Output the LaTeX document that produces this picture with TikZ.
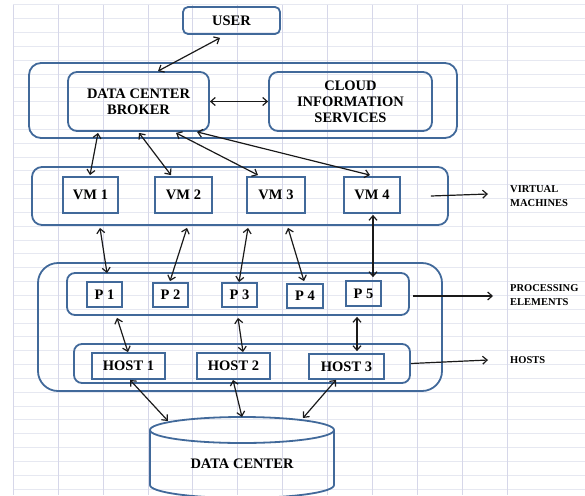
\documentclass[tikz,border=0pt]{standalone}
\usepackage{fontspec}
\setmainfont{Liberation Serif}
\usetikzlibrary{arrows.meta,calc}
\definecolor{boxblue}{HTML}{41699A}
\definecolor{gridv}{HTML}{D6D7E9}
\definecolor{gridh}{HTML}{E6E8F1}
\definecolor{ink}{HTML}{1A1A1A}
\begin{document}
\begin{tikzpicture}[x=1pt,y=-1pt,
  lbl/.style={font=\fontsize{14.5}{16}\selectfont\bfseries, align=center, text=black},
  rbox/.style={draw=boxblue, line width=1.8pt, rounded corners=#1, inner sep=0pt},
  rbox/.default=8pt,
  sbox/.style={draw=boxblue, line width=1.8pt, inner sep=0pt, lbl},
  tipb/.tip={Straight Barb[length=4.5pt,width=8pt]},
  conn/.style={draw=ink, line width=1.2pt, tipb-tipb},
  oneway/.style={draw=ink, line width=1.2pt, -tipb},
  side/.style={font=\fontsize{10.5}{14}\selectfont\bfseries, align=left, anchor=west, inner sep=0pt, text=black},
  gridline/.style={line width=1pt},
]
\useasboundingbox (0,0) rectangle (585,495);
% background grid
\foreach \k in {0,...,35} \draw[gridline, gridh] ({13.3},{5+13.83*\k}) -- ({585},{5+13.83*\k});
\foreach \k in {0,...,11} \draw[gridline, gridv] ({13.3+44.9*\k},{5}) -- ({13.3+44.9*\k},{495});

% top group
\node[rbox=5pt, lbl, minimum width=97pt, minimum height=27pt] (user) at (231.5,20.5) {USER};
\node[rbox=12pt, minimum width=428pt, minimum height=75pt] (topc) at (243,100.5) {};
\node[rbox=9pt, lbl, minimum width=141pt, minimum height=59pt] (broker) at (138.5,101.5) {DATA CENTER\\BROKER};
\node[rbox=9pt, lbl, minimum width=163pt, minimum height=59pt] (cloud) at (350.5,101.5) {CLOUD\\INFORMATION\\SERVICES};

% VM group
\node[rbox=10pt, minimum width=416pt, minimum height=58pt] (vmc) at (240,196) {};
\node[sbox, minimum width=55pt, minimum height=36pt] (vm1) at (90.5,195) {VM 1};
\node[sbox, minimum width=57pt, minimum height=36pt] (vm2) at (183.5,195) {VM 2};
\node[sbox, minimum width=58pt, minimum height=36pt] (vm3) at (276,195) {VM 3};
\node[sbox, minimum width=56pt, minimum height=36pt] (vm4) at (372,195) {VM 4};

% processing group
\node[rbox=20pt, minimum width=404pt, minimum height=128pt] (procc) at (240,327) {};
\node[rbox=8pt, minimum width=342pt, minimum height=42pt] (pc) at (238,294) {};
\node[sbox, minimum width=35pt, minimum height=25pt] (p1) at (104.5,294.5) {P 1};
\node[sbox, minimum width=35pt, minimum height=24pt] (p2) at (170.5,295) {P 2};
\node[sbox, minimum width=35pt, minimum height=24pt] (p3) at (239.5,295) {P 3};
\node[sbox, minimum width=36pt, minimum height=24pt] (p4) at (305,296) {P 4};
\node[sbox, minimum width=35pt, minimum height=25pt] (p5) at (363.5,293.5) {P 5};

\node[rbox=8pt, minimum width=336pt, minimum height=39pt] (hc) at (242,363.5) {};
\node[sbox, minimum width=73pt, minimum height=26pt] (host1) at (128.5,366) {HOST 1};
\node[sbox, minimum width=73pt, minimum height=26pt] (host2) at (233.5,366) {HOST 2};
\node[sbox, minimum width=75pt, minimum height=25pt] (host3) at (346.5,366.5) {HOST 3};

% data center cylinder
\draw[boxblue, line width=1.8pt] (150,430) -- (150,485) arc[start angle=180, end angle=0, x radius=92, y radius=13] -- (334,430);
\draw[boxblue, line width=1.8pt] (242,430) ellipse[x radius=92, y radius=13];
\node[lbl] (dc) at (242,464) {DATA CENTER};
\coordinate (dc1) at (168,421);
\coordinate (dc2) at (242,417);
\coordinate (dc3) at (303,418);

% side labels
\node[side] (vml) at (510,196) {VIRTUAL\\MACHINES};
\node[side] (pel) at (510,295.5) {PROCESSING\\ELEMENTS};
\node[side] (hl) at (510,360) {HOSTS};
\coordinate (vmend) at (488,194);
\coordinate (peend) at (493,296);
\coordinate (hend) at (488,360);

% connectors
\draw[conn] ($(user.south)+(-11.5,3)$) -- ($(broker.north)+(19.5,0)$);
\draw[conn] (broker.east) -- (cloud.west);

\draw[conn] ($(broker.south)+(-40.5,1)$) -- ($(vm1.north)+(-0.5,-1)$);
\draw[conn] ($(broker.south)+(0.5,1)$) -- ($(vm2.north)+(-12.5,-1)$);
\draw[conn] ($(broker.south)+(37.5,1)$) -- ($(vm3.north)+(-18,-1)$);
\draw[conn] ($(broker.south)+(58.5,0)$) -- ($(vm4.north)+(-2,-1)$);

\draw[conn] ($(vm1.south)+(9.5,14)$) -- ($(p1.north)+(2.5,-8)$);
\draw[conn] ($(vm2.south)+(3.5,14)$) -- ($(p2.north)+(-0.5,-1)$);
\draw[conn] ($(vm3.south)+(-28,14)$) -- ($(p3.north)+(-0.5,0)$);
\draw[conn] ($(vm3.south)+(12,14)$) -- ($(p4.north)+(-1,-2)$);
\draw[conn] ($(vm4.south)+(1,1)$) -- ($(p5.north)+(9.5,-3)$);

\draw[conn] ($(p1.south)+(12.5,10)$) -- ($(host1.north)+(-0.5,0)$);
\draw[conn] ($(p3.south)+(-1.5,10)$) -- ($(host2.north)+(9.5,0)$);
\draw[conn] ($(p5.south)+(-6.5,10)$) -- ($(host3.north)+(10.5,-2)$);

\draw[conn] ($(host1.south)+(1.5,0)$) -- (dc1);
\draw[conn] ($(host2.south)+(-0.5,0)$) -- (dc2);
\draw[conn] ($(host3.south)+(-10.5,0)$) -- (dc3);

\draw[oneway] ($(vmc.east)+(-18,0)$) -- (vmend);
\draw[oneway] ($(pc.east)+(3,2)$) -- (peend);
\draw[oneway] (hc.east) -- (hend);
\end{tikzpicture}
\end{document}
